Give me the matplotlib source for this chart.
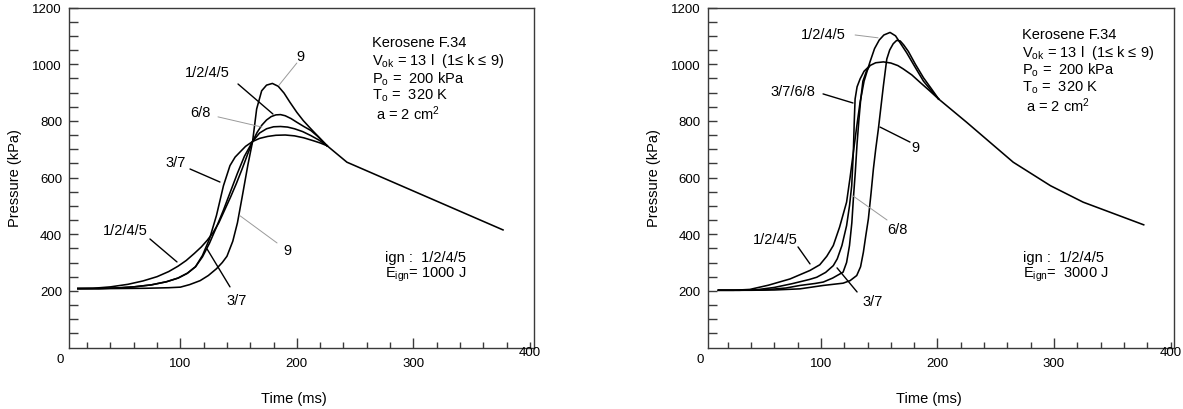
import matplotlib
matplotlib.use("Agg")
import matplotlib.pyplot as plt
from matplotlib.ticker import FixedLocator
from matplotlib.transforms import blended_transform_factory

plt.rcParams['font.family'] = ['Liberation Sans', 'DejaVu Sans']
plt.rcParams['mathtext.fontset'] = 'custom'
plt.rcParams['mathtext.rm'] = 'Liberation Sans'
plt.rcParams['mathtext.it'] = 'Liberation Sans:italic'

# ---------------- data: left panel (E_ign = 1000 J) ----------------
L_t_1245 = [12, 25, 40, 55, 68, 80, 90, 98, 105, 112, 118, 123, 128, 133, 138, 143, 148, 153, 158, 162,
            166, 170, 174, 178, 182, 186, 190, 195, 200, 206, 212, 218, 226]
L_p_1245 = [208, 209, 214, 223, 235, 250, 268, 287, 307, 332, 355, 378, 405, 440, 485, 530, 578, 630, 685, 727,
            760, 785, 803, 815, 821, 822, 818, 808, 795, 780, 766, 745, 712]

L_t_37 = [12, 30, 45, 60, 75, 88, 98, 106, 113, 119, 125, 131, 137, 142.6, 147, 151, 156, 162, 168, 175,
          182, 190, 198, 206, 214, 220, 226]
L_p_37 = [208, 208, 210, 214, 221, 232, 245, 262, 285, 325, 383, 466, 571, 642, 672, 689, 710, 727, 738, 745,
          749, 750, 747, 740, 730, 722, 712]

L_t_68 = [12, 30, 45, 60, 75, 88, 98, 106, 113, 119, 125, 131, 137, 143, 149, 155, 162, 168, 174, 180,
          186, 192, 198, 205, 212, 219, 226]
L_p_68 = [208, 208, 210, 214, 221, 232, 245, 262, 285, 320, 368, 425, 485, 550, 615, 675, 727, 757, 772, 779,
          780, 778, 772, 762, 748, 732, 712]

L_t_9 = [12, 40, 70, 90, 100, 108, 117, 124, 131, 136, 140, 145, 149, 153, 158, 162, 165.5, 169.8, 174, 179,
         184, 189, 194, 200, 205.5, 212, 219, 226]
L_p_9 = [208, 208, 209, 211, 213, 222, 236, 254, 278, 300, 322, 375, 440, 530, 645, 727, 842, 906, 926, 932,
         922, 898, 866, 830, 801, 772, 742, 712]

L_t_tail = [226, 243, 377]
L_p_tail = [712, 654, 415]

# ---------------- data: right panel (E_ign = 3000 J) ----------------
R_t_1245 = [12, 25, 39, 55, 73.5, 90.6, 99, 105, 110.6, 116, 122, 125, 127.8, 130.7, 133.6, 137, 142, 146,
            150, 154, 159.3, 164, 168, 173.6, 180, 188, 195, 201]
R_p_1245 = [202, 202, 205, 220, 242, 272, 292, 322, 360, 425, 513, 600, 689, 780, 866, 940, 1007, 1055,
            1085, 1103, 1112, 1100, 1075, 1040, 995, 940, 905, 877]

R_t_37 = [12, 30, 45, 60, 75, 90, 96.4, 104, 110.6, 114, 118, 122, 124.5, 126.4, 127.8, 128.6, 129.3, 131,
          133.6, 137, 142, 147, 153.6, 160, 166, 170.7, 178, 185, 193, 201]
R_p_37 = [202, 202, 204, 212, 225, 240, 248, 265, 289, 313, 360, 430, 500, 571, 689, 800, 877, 920,
          948, 975, 995, 1005, 1008, 1004, 995, 983, 962, 936, 907, 877]

R_t_68 = [12, 30, 50, 70, 82, 95, 102, 110, 119, 122, 124.5, 126.5, 128, 129.5, 131, 132.5, 134, 136, 139, 142]
R_p_68 = [202, 202, 203, 210, 219, 226, 231, 245, 266, 300, 360, 440, 536, 620, 720, 800, 870, 940, 975, 995]

R_t_9 = [12, 40, 60, 82, 102, 119, 125, 130.7, 134, 136.4, 138.5, 140.7, 143, 145, 147, 149.3, 151.5, 153.6,
         156.5, 159, 162, 165, 168, 171, 175, 181, 188, 195, 201]
R_p_9 = [202, 202, 203, 207, 219, 227, 236, 254, 285, 336, 395, 454, 545, 630, 700, 772, 850, 924,
         1018, 1050, 1072, 1084, 1082, 1068, 1045, 1000, 952, 912, 877]

R_t_tail = [201, 225, 265, 297, 325, 377]
R_p_tail = [877, 795, 654, 571, 513, 433]

# ---------------- text ----------------
x_label = "Time (ms)"
y_label = "Pressure (kPa)"
x_tick_vals = [100, 200, 300]
x_tick_labels = ["100", "200", "300"]
x_edge_labels = ["0", "400"]
y_tick_vals = [200, 400, 600, 800, 1000, 1200]
y_tick_labels = ["200", "400", "600", "800", "1000", "1200"]

info_lines = ["Kerosene F.34",
              "V$_{\\rm ok}$ = 13 l  (1\u2264 k \u2264 9)",
              "P$_{\\rm o}$ =  200 kPa",
              "T$_{\\rm o}$ =  320 K",
              " a = 2 cm$^{2}$"]
ign_left = ["ign :  1/2/4/5", "E$_{\\rm ign}$= 1000 J"]
ign_right = ["ign :  1/2/4/5", "E$_{\\rm ign}$=  3000 J"]

# labels: (text, text_x, text_y, line_start, line_end, gray?)
left_labels = [
    ("9", 202.7, 1029, (200, 1004), (184.5, 925), True),
    ("1/2/4/5", 123.3, 972, (149.5, 930), (179.5, 824), False),
    ("6/8", 117, 831, (132.3, 814), (170, 778), True),
    ("3/7", 96, 655, (108.3, 630), (134, 584), False),
    ("1/2/4/5", 52.4, 415, (73.9, 383), (97.1, 302), False),
    ("3/7", 148.6, 168, (142.6, 214), (122.9, 348), False),
    ("9", 191.5, 345, (183, 369), (151.2, 465), True),
]
right_labels = [
    ("1/2/4/5", 101.8, 1107, (129.3, 1103), (149, 1093), True),
    ("3/7/6/8", 76, 905, (101.8, 895), (127.5, 863), False),
    ("9", 180.7, 708, (176.4, 725), (150.7, 778), False),
    ("6/8", 166, 419, (156.7, 450), (127.5, 535), True),
    ("1/2/4/5", 60.4, 383, (80.3, 355), (90.6, 295), False),
    ("3/7", 144.6, 165, (131, 196), (113.8, 281), False),
]

W, H = 1183, 410
fig = plt.figure(figsize=(W / 100, H / 100), dpi=100)
ax1 = fig.add_axes([69 / W, 1 - 348.5 / H, 465 / W, 340 / H])
ax2 = fig.add_axes([707.7 / W, 1 - 348.5 / H, 466.3 / W, 340 / H])

spine_c = '#3a3a3a'
curve_kw = dict(color='black', lw=1.15, solid_joinstyle='round')


def setup(ax, xlim, xlabel_x):
    ax.set_xlim(*xlim)
    ax.set_ylim(0, 1200)
    for s in ax.spines.values():
        s.set_color(spine_c)
        s.set_linewidth(1.0)
    ax.xaxis.set_major_locator(FixedLocator(x_tick_vals))
    ax.set_xticklabels(x_tick_labels)
    ax.xaxis.set_minor_locator(FixedLocator([v for v in range(20, 400, 20) if v % 100 != 0] + [400]))
    ax.set_yticks(y_tick_vals)
    ax.set_yticklabels(y_tick_labels)
    ax.yaxis.set_minor_locator(FixedLocator([v for v in range(50, 1200, 50) if v not in y_tick_vals]))
    ax.tick_params(axis='x', which='major', direction='in', length=7.5, width=1.0, color=spine_c,
                   labelsize=9.5, pad=7)
    ax.tick_params(axis='x', which='minor', direction='in', length=4.5, width=1.0, color=spine_c)
    ax.tick_params(axis='y', which='both', direction='in', length=6.3, width=1.0, color=spine_c,
                   labelsize=9.5, pad=5)
    ax.tick_params(top=False, right=False, which='both')
    ax.set_xlabel(x_label, fontsize=10.5)
    ax.set_ylabel(y_label, fontsize=10.5)
    ax.xaxis.set_label_coords(xlabel_x, -0.127)
    ax.yaxis.set_label_coords(-0.1, 0.5)
    tr = blended_transform_factory(ax.transData, ax.transAxes)
    ax.text(-3.5, -0.035, x_edge_labels[0], transform=tr, ha='center', va='center', fontsize=9.5)
    ax.text(400, -0.012, x_edge_labels[1], transform=tr, ha='center', va='center', fontsize=9.5)


setup(ax1, (4.4, 403.6), 0.484)
setup(ax2, (2.8, 403.0), 0.474)

for t, p in [(L_t_1245, L_p_1245), (L_t_37, L_p_37), (L_t_68, L_p_68), (L_t_9, L_p_9), (L_t_tail, L_p_tail)]:
    ax1.plot(t, p, **curve_kw)
for t, p in [(R_t_1245, R_p_1245), (R_t_37, R_p_37), (R_t_68, R_p_68), (R_t_9, R_p_9), (R_t_tail, R_p_tail)]:
    ax2.plot(t, p, **curve_kw)


def add_labels(ax, labels):
    for txt, tx, ty, s, e, gray in labels:
        ax.text(tx, ty, txt, ha='center', va='center', fontsize=10.5)
        ax.annotate('', xy=e, xytext=s,
                    arrowprops=dict(arrowstyle='-', color='#9a9a9a' if gray else 'black',
                                    lw=0.7 if gray else 1.0, shrinkA=0, shrinkB=0))


add_labels(ax1, left_labels)
add_labels(ax2, right_labels)


def info(ax, x, ys, lines):
    for y, line in zip(ys, lines):
        ax.text(x, y, line, ha='left', va='center', fontsize=10.5)


info(ax1, 264.5, [1078, 1015, 951, 891, 828], info_lines)
info(ax1, 275.5, [320, 260], ign_left)
info(ax2, 272.6, [1107, 1043, 983, 919, 856], info_lines)
info(ax2, 273.5, [320, 260], ign_right)

fig.savefig("out.png", dpi=100, facecolor='white')
